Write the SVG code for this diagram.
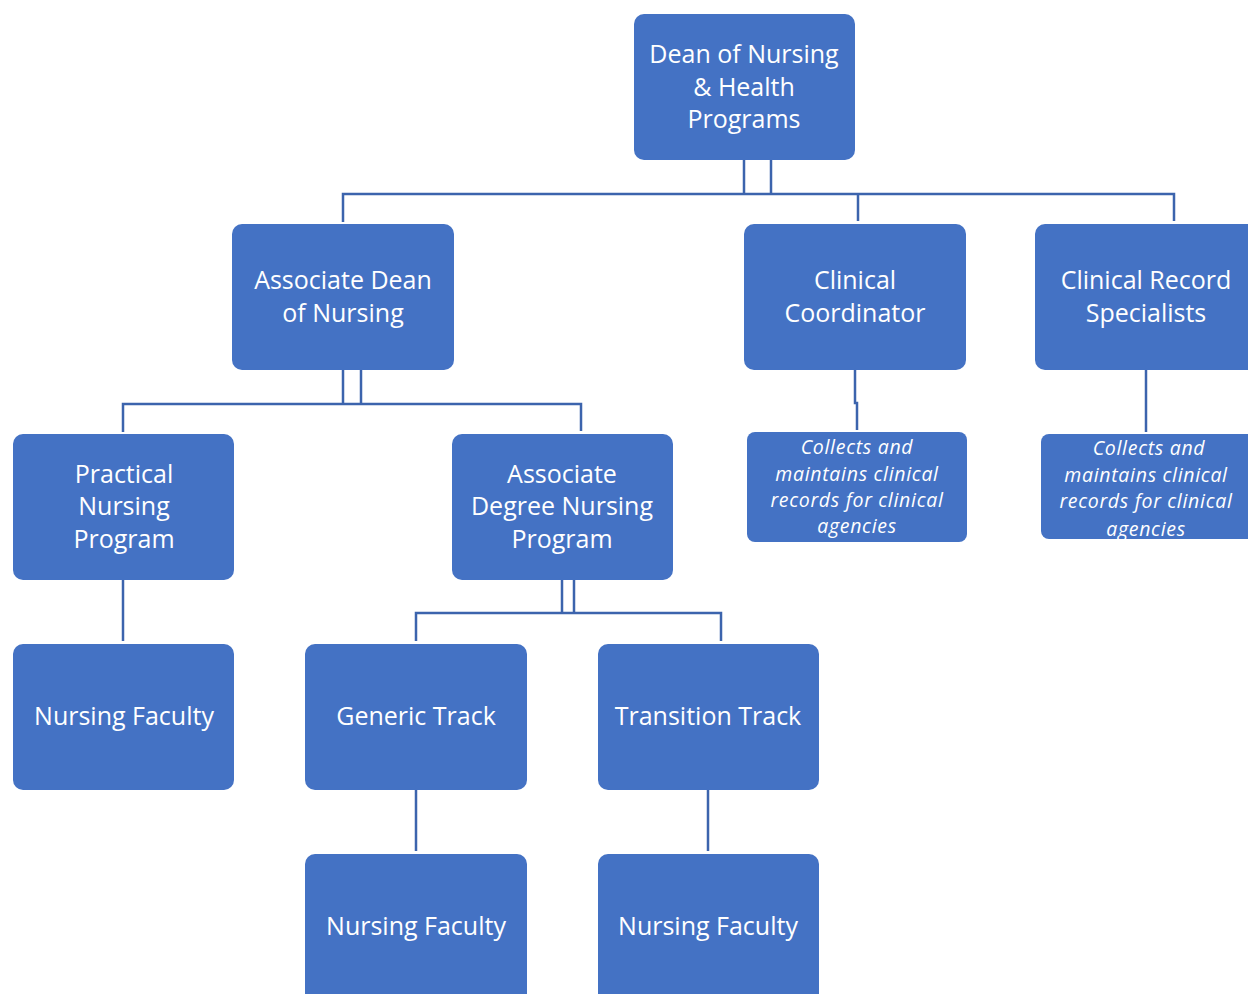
<svg xmlns="http://www.w3.org/2000/svg" width="1248" height="994" viewBox="0 0 1248 994">
<style>
.box{fill:#4472C4;}
.t{fill:#fff;font-family:"Open Sans","Noto Sans",sans-serif;font-size:25px;text-anchor:middle;}
.i{fill:#fff;font-family:"Open Sans","Noto Sans",sans-serif;font-size:19.5px;letter-spacing:0.7px;font-style:italic;text-anchor:middle;}
.c{fill:none;stroke:#3C64AD;stroke-width:2.5;}
</style>
<rect width="1248" height="994" fill="#fff"/>
<g id="connectors">
<path class="c" d="M744,160 V194 M771,160 V194 M343,222 V194 H1174 V221 M858,194 V221"/>
<path class="c" d="M343,370 V404 M361,370 V404 M123,432 V404 H581 V431"/>
<path class="c" d="M855,370 V403 H857 V430"/>
<path class="c" d="M1146,370 V432"/>
<path class="c" d="M123,580 V641"/>
<path class="c" d="M562,580 V613 M574,580 V613 M416,641 V613 H721 V641"/>
<path class="c" d="M416,790 V851 M708,790 V851"/>
</g>
<g id="dean"><rect class="box" x="634" y="14" width="221" height="146" rx="10"/>
<text class="t" x="744" y="63">Dean of Nursing</text><text class="t" x="744" y="96">&amp; Health</text><text class="t" x="744" y="128">Programs</text></g>
<g id="assocDean"><rect class="box" x="232" y="224" width="222" height="146" rx="10"/>
<text class="t" x="343" y="289">Associate Dean</text><text class="t" x="343" y="322">of Nursing</text></g>
<g id="clinCoord"><rect class="box" x="744" y="224" width="222" height="146" rx="10"/>
<text class="t" x="855" y="289">Clinical</text><text class="t" x="855" y="322">Coordinator</text></g>
<g id="clinRecord"><rect class="box" x="1035" y="224" width="222" height="146" rx="10"/>
<text class="t" x="1146" y="289">Clinical Record</text><text class="t" x="1146" y="322">Specialists</text></g>
<g id="ccNote"><rect class="box" x="747" y="432" width="220" height="110" rx="8"/>
<text class="i" x="857" y="454">Collects and</text><text class="i" x="857" y="481">maintains clinical</text><text class="i" x="857" y="507">records for clinical</text><text class="i" x="857" y="533">agencies</text></g>
<g id="crNote"><rect class="box" x="1041" y="434" width="215" height="105" rx="8"/>
<text class="i" x="1149" y="455">Collects and</text><text class="i" x="1146" y="482">maintains clinical</text><text class="i" x="1146" y="508">records for clinical</text><text class="i" x="1146" y="536">agencies</text></g>
<g id="pnp"><rect class="box" x="13" y="434" width="221" height="146" rx="10"/>
<text class="t" x="124" y="483">Practical</text><text class="t" x="124" y="515">Nursing</text><text class="t" x="124" y="548">Program</text></g>
<g id="adn"><rect class="box" x="452" y="434" width="221" height="146" rx="10"/>
<text class="t" x="562" y="483">Associate</text><text class="t" x="562" y="515">Degree Nursing</text><text class="t" x="562" y="548">Program</text></g>
<g id="pnFaculty"><rect class="box" x="13" y="644" width="221" height="146" rx="10"/>
<text class="t" x="124" y="725">Nursing Faculty</text></g>
<g id="generic"><rect class="box" x="305" y="644" width="222" height="146" rx="10"/>
<text class="t" x="416" y="725">Generic Track</text></g>
<g id="transition"><rect class="box" x="598" y="644" width="221" height="146" rx="10"/>
<text class="t" x="708" y="725">Transition Track</text></g>
<g id="genFaculty"><rect class="box" x="305" y="854" width="222" height="150" rx="10"/>
<text class="t" x="416" y="935">Nursing Faculty</text></g>
<g id="trFaculty"><rect class="box" x="598" y="854" width="221" height="150" rx="10"/>
<text class="t" x="708" y="935">Nursing Faculty</text></g>
</svg>
